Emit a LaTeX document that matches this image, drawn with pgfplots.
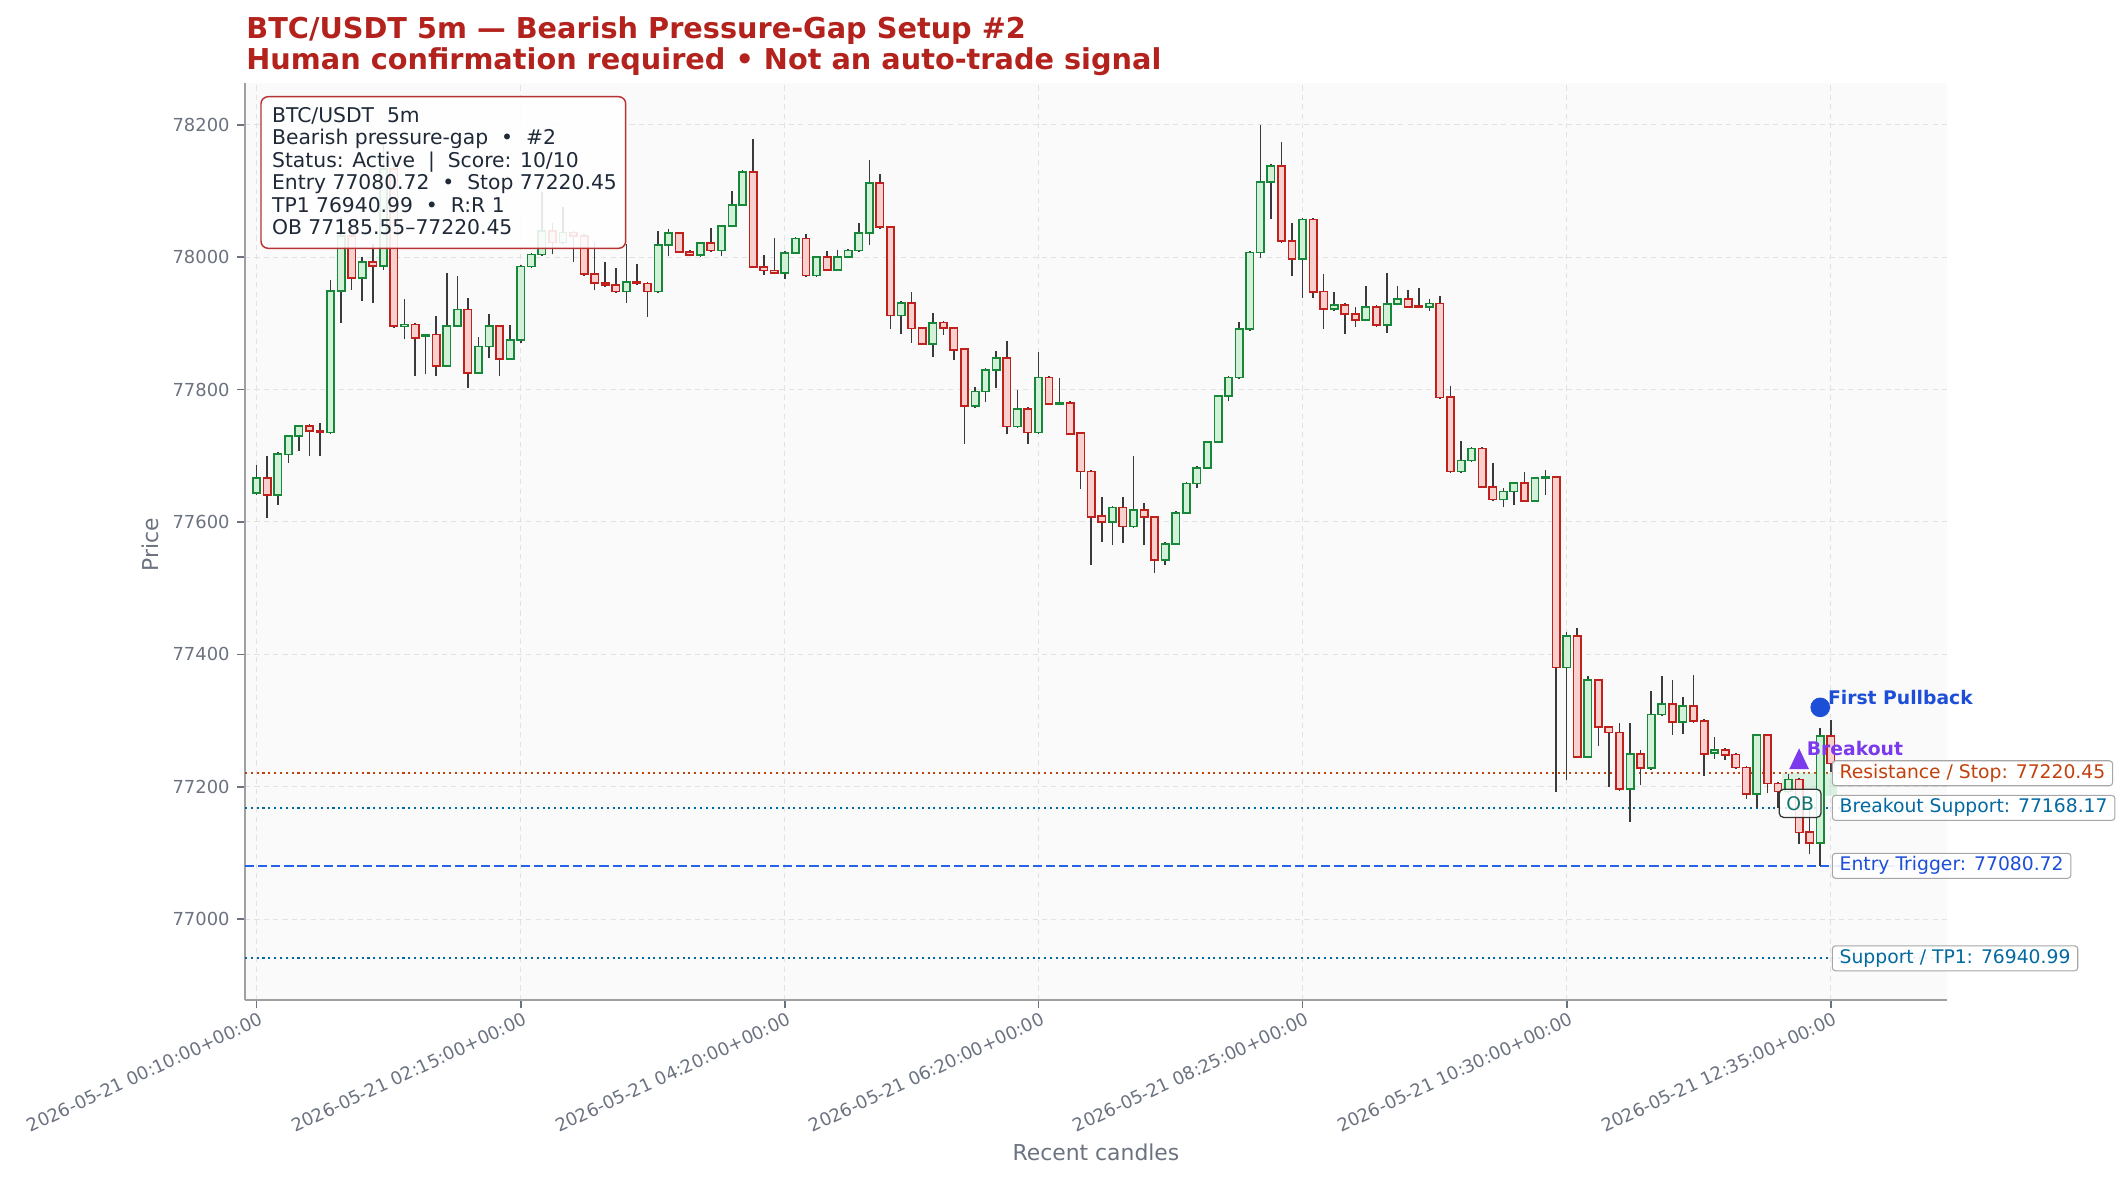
\documentclass[border=0pt]{standalone}
\usepackage{fontspec}
\setmainfont{DejaVu Sans}
\usepackage{pgfplots}
\usepackage{pgfplotstable}
\pgfplotsset{compat=1.18}

\definecolor{upedge}{HTML}{17873A}
\definecolor{upfill}{HTML}{D3F0D9}
\definecolor{dnedge}{HTML}{C0211D}
\definecolor{dnfill}{HTML}{F8D0CE}
\definecolor{wickc}{HTML}{3A3A3A}
\definecolor{titlec}{HTML}{B3221C}
\definecolor{tickc}{HTML}{6B7280}
\definecolor{spinec}{HTML}{A0A0A0}
\definecolor{gridc}{HTML}{E2E2E2}
\definecolor{bgc}{HTML}{FAFAFA}
\definecolor{resc}{HTML}{C2410C}
\definecolor{supc}{HTML}{0369A1}
\definecolor{entc}{HTML}{2563EB}
\definecolor{entt}{HTML}{1D4ED8}
\definecolor{brkc}{HTML}{7C3AED}
\definecolor{obc}{HTML}{0F766E}
\definecolor{obfill}{HTML}{9FE3B8}
\definecolor{boxc}{HTML}{B83232}
\definecolor{boxt}{HTML}{1F2937}

% pt per dollar: axis height / (ymax - ymin)
\pgfmathsetmacro\yu{440.16/1385}

\pgfdeclareplotmark{cbody}{%
  \pgfpathrectangle{\pgfpoint{-1.75pt}{-0.5pt*\bh}}{\pgfpoint{3.5pt}{1pt*\bh}}%
  \pgfusepathqfillstroke}
\pgfdeclareplotmark{cwick}{%
  \pgfpathmoveto{\pgfpoint{0pt}{-0.5pt*\wh}}%
  \pgfpathlineto{\pgfpoint{0pt}{0.5pt*\wh}}%
  \pgfusepathqstroke}

% 5m candles, index 0 = 00:10
\pgfplotstableread{
x o h l c
0 77644 77686 77640 77666
1 77666 77700 77606 77641
2 77641 77705 77626 77703
3 77702 77732 77689 77730
4 77730 77747 77707 77745
5 77745 77748 77700 77737
6 77737 77750 77699 77735
7 77735 77966 77733 77949
8 77949 78060 77901 78032
9 78032 78045 77950 77968
10 77968 78000 77933 77993
11 77993 78020 77930 77987
12 77987 78170 77980 78133
13 78133 78140 77893 77896
14 77895 77937 77876 77898
15 77898 77900 77821 77878
16 77880 77884 77824 77882
17 77883 77911 77821 77836
18 77836 77976 77834 77896
19 77896 77971 77894 77921
20 77921 77938 77802 77825
21 77825 77880 77823 77865
22 77865 77914 77847 77896
23 77896 77898 77821 77846
24 77846 77897 77844 77875
25 77875 77988 77870 77986
26 77986 78006 77984 78004
27 78004 78099 78002 78039
28 78039 78052 78004 78022
29 78022 78076 78020 78037
30 78037 78040 77992 78032
31 78032 78035 77972 77974
32 77974 78023 77950 77961
33 77961 77993 77955 77958
34 77958 77983 77946 77948
35 77948 78020 77931 77962
36 77962 77989 77958 77960
37 77960 77962 77910 77948
38 77948 78039 77946 78018
39 78018 78043 78001 78036
40 78036 78038 78006 78008
41 78008 78010 78001 78003
42 78003 78023 78000 78021
43 78021 78044 78008 78010
44 78010 78049 78001 78047
45 78047 78100 78045 78079
46 78079 78131 78077 78129
47 78129 78179 77983 77985
48 77985 78003 77973 77980
49 77980 78029 77974 77976
50 77976 78009 77967 78006
51 78006 78030 78004 78028
52 78028 78035 77970 77972
53 77972 78002 77970 78000
54 78000 78009 77979 77981
55 77981 78010 77979 78000
56 78000 78012 77998 78010
57 78010 78052 78008 78036
58 78036 78147 78019 78112
59 78112 78125 78043 78045
60 78045 78047 77892 77912
61 77912 77933 77884 77931
62 77931 77948 77871 77892
63 77893 77895 77867 77869
64 77869 77915 77849 77901
65 77901 77903 77883 77893
66 77893 77895 77844 77860
67 77861 77863 77718 77775
68 77775 77804 77772 77797
69 77797 77832 77781 77830
70 77830 77858 77802 77848
71 77848 77873 77733 77744
72 77744 77799 77742 77771
73 77771 77773 77718 77735
74 77735 77856 77733 77818
75 77818 77820 77776 77778
76 77778 77817 77776 77780
77 77780 77782 77731 77733
78 77734 77736 77650 77676
79 77676 77678 77535 77607
80 77609 77637 77569 77600
81 77600 77624 77565 77622
82 77622 77637 77568 77593
83 77593 77699 77591 77618
84 77618 77629 77565 77607
85 77607 77609 77523 77543
86 77543 77569 77535 77567
87 77567 77616 77565 77614
88 77614 77660 77612 77658
89 77658 77684 77652 77682
90 77682 77723 77680 77721
91 77721 77792 77719 77790
92 77790 77820 77782 77818
93 77818 77902 77816 77891
94 77891 78009 77889 78007
95 78007 78200 77999 78113
96 78113 78140 78057 78138
97 78138 78174 78022 78024
98 78024 78052 77971 77997
99 77997 78059 77938 78057
100 78057 78059 77939 77947
101 77948 77974 77892 77922
102 77922 77948 77918 77928
103 77928 77930 77884 77914
104 77914 77924 77894 77905
105 77905 77956 77903 77925
106 77925 77927 77895 77897
107 77897 77976 77886 77929
108 77929 77957 77927 77937
109 77937 77951 77923 77925
110 77926 77953 77923 77924
111 77925 77937 77919 77930
112 77930 77941 77786 77788
113 77789 77805 77674 77676
114 77676 77723 77674 77693
115 77693 77713 77691 77711
116 77711 77713 77651 77653
117 77653 77689 77632 77634
118 77634 77652 77623 77646
119 77646 77661 77625 77659
120 77659 77675 77630 77632
121 77632 77668 77630 77666
122 77666 77678 77640 77668
123 77668 77670 77192 77380
124 77380 77434 77210 77428
125 77428 77440 77243 77245
126 77245 77368 77243 77361
127 77361 77363 77261 77290
128 77290 77292 77200 77282
129 77282 77297 77193 77197
130 77197 77297 77147 77250
131 77250 77255 77203 77228
132 77228 77344 77226 77309
133 77309 77367 77307 77325
134 77325 77361 77278 77298
135 77298 77336 77280 77322
136 77322 77369 77297 77299
137 77299 77303 77216 77250
138 77251 77275 77242 77256
139 77256 77259 77240 77248
140 77249 77251 77227 77229
141 77229 77231 77182 77189
142 77189 77280 77168 77278
143 77278 77280 77190 77205
144 77205 77207 77168 77193
145 77193 77219 77191 77211
146 77211 77213 77113 77131
147 77132 77166 77099 77115
148 77115 77289 77081 77277
149 77277 77301 77222 77235
}\ohlc

\tikzset{
  lvl/.style={draw=gray!70, line width=0.5pt, fill=white, fill opacity=0.9, text opacity=1,
    rounded corners=1.5pt, inner xsep=3.5pt, inner ysep=1.4pt, text height=7pt, text depth=2.2pt,
    font=\fontsize{9}{10.8}\selectfont, anchor=west},
  boxline/.style={anchor=base west, text=boxt, inner sep=0pt, font=\fontsize{9.75}{11.7}\selectfont},
}

\begin{document}
\begin{tikzpicture}[x=0.48pt, y=0.48pt]
\useasboundingbox (-245,-179) rectangle (1880,1000);
\begin{axis}[
  at={(0,0)}, anchor=south west,
  scale only axis, width=816.96pt, height=440.16pt,
  xmin=-1.1, xmax=160, ymin=76878, ymax=78263,
  axis x line*=bottom, axis y line*=left,
  axis line style={draw=spinec, line width=0.8pt, -},
  axis background/.style={fill=bgc},
  xtick={0,25,50,74,99,124,149},
  xticklabels={2026-05-21 00:10:00+00:00,2026-05-21 02:15:00+00:00,2026-05-21 04:20:00+00:00,2026-05-21 06:20:00+00:00,2026-05-21 08:25:00+00:00,2026-05-21 10:30:00+00:00,2026-05-21 12:35:00+00:00},
  ytick={77000,77200,77400,77600,77800,78000,78200},
  scaled y ticks=false,
  /pgf/number format/assume math mode=true,
  yticklabel style={/pgf/number format/fixed, /pgf/number format/1000 sep={}},
  tick align=outside, major tick length=3.7pt,
  tick style={draw=tickc, line width=0.8pt},
  ticklabel style={font=\fontsize{8.6}{10.3}\selectfont, text=tickc},
  xticklabel style={rotate=25, anchor=north east, inner sep=0pt, yshift=-2pt},
  yticklabel style={anchor=east, inner sep=0pt, xshift=-3.5pt},
  grid=major,
  major grid style={draw=gridc, dash pattern=on 2.5pt off 2pt, line width=0.5pt},
  clip=false,
]
% key levels
\addplot[draw=resc, line width=1pt, dash pattern=on 1pt off 1.8pt] coordinates {(-1.1,77220.45) (160,77220.45)};
\addplot[draw=supc, line width=1pt, dash pattern=on 1pt off 1.8pt] coordinates {(-1.1,77168.17) (160,77168.17)};
\addplot[draw=supc, line width=1pt, dash pattern=on 1pt off 1.8pt] coordinates {(-1.1,76940.99) (160,76940.99)};
\addplot[draw=entc, line width=1.2pt, dash pattern=on 4.4pt off 1.9pt] coordinates {(-1.1,77080.72) (160,77080.72)};
% order block zone
\fill[obfill, fill opacity=0.35] (axis cs:144.4,77185.55) rectangle (axis cs:149.6,77220.45);

% wicks
\addplot[only marks, mark=cwick, mark options={draw=wickc, line width=0.75pt},
  visualization depends on={\yu*(\thisrow{h}-\thisrow{l}) \as \wh}]
  table[x=x, y expr={0.5*(\thisrow{h}+\thisrow{l})}] {\ohlc};
% up bodies
\addplot[only marks, mark=cbody, mark options={draw=upedge, fill=upfill, line width=0.8pt},
  visualization depends on={\yu*abs(\thisrow{c}-\thisrow{o}) \as \bh}]
  table[x=x, y expr={\thisrow{c}>=\thisrow{o} ? 0.5*(\thisrow{o}+\thisrow{c}) : nan}] {\ohlc};
% down bodies
\addplot[only marks, mark=cbody, mark options={draw=dnedge, fill=dnfill, line width=0.8pt},
  visualization depends on={\yu*abs(\thisrow{c}-\thisrow{o}) \as \bh}]
  table[x=x, y expr={\thisrow{c}<\thisrow{o} ? 0.5*(\thisrow{o}+\thisrow{c}) : nan}] {\ohlc};

% markers
\addplot[only marks, mark=triangle*, mark size=6.2pt, mark options={draw=brkc, fill=brkc, xscale=0.82}] coordinates {(146,77237)};
\addplot[only marks, mark=*, mark size=4.5pt, mark options={draw=entt, fill=entt}] coordinates {(148,77320)};

% anchor points for the annotations drawn on top
\coordinate (brk) at (axis cs:146.7,77258);
\coordinate (fpb) at (axis cs:148.7,77335);
\coordinate (ob) at (axis cs:146.1,77175);
\coordinate (lres) at (axis cs:149.1,77220.45);
\coordinate (lsup) at (axis cs:149.1,77168.17);
\coordinate (lent) at (axis cs:149.1,77080.72);
\coordinate (ltp) at (axis cs:149.1,76940.99);
\end{axis}

\node[anchor=west, inner sep=0pt, text=brkc, font=\fontsize{9}{10.8}\selectfont\bfseries] at (brk) {Breakout};
\node[anchor=west, inner sep=0pt, text=entt, font=\fontsize{9}{10.8}\selectfont\bfseries] at (fpb) {First Pullback};
\node[draw=black!80, line width=0.6pt, fill=white, fill opacity=0.85, text opacity=1, rounded corners=2pt,
  text=obc, font=\fontsize{9}{10.8}\selectfont, inner xsep=3pt, minimum height=13.4pt, minimum width=20pt]
  at (ob) {OB};

% right-hand level labels
\node[lvl, text=resc] at (lres) {Resistance / Stop: 77220.45};
\node[lvl, text=supc] at (lsup) {Breakout Support: 77168.17};
\node[lvl, text=entt] at (lent) {Entry Trigger: 77080.72};
\node[lvl, text=supc] at (ltp) {Support / TP1: 76940.99};

% axis labels
\node[rotate=90, text=tickc, font=\fontsize{10.5}{12.6}\selectfont] at (-95,455) {Price};
\node[text=tickc, font=\fontsize{10.5}{12.6}\selectfont] at (851,-152) {Recent candles};

% title
\node[anchor=base west, inner sep=0pt, text=titlec, font=\fontsize{13.8}{16.5}\selectfont\bfseries] at (1,961.7) {BTC/USDT 5m — Bearish Pressure-Gap Setup \#2};
\node[anchor=base west, inner sep=0pt, text=titlec, font=\fontsize{13.8}{16.5}\selectfont\bfseries] at (1,930) {Human confirmation required • Not an auto-trade signal};

% info box
\draw[draw=boxc, line width=0.7pt, fill=white, fill opacity=0.88, rounded corners=3.4pt] (16,751.7) rectangle (380.7,903.3);
\node[boxline] at (26.7,877.7) {BTC/USDT\ \ 5m};
\node[boxline] at (26.7,855.2) {Bearish pressure-gap\ \ •\ \ \#2};
\node[boxline] at (26.7,832.7) {Status: Active\ \ |\ \ Score: 10/10};
\node[boxline] at (26.7,810.2) {Entry 77080.72\ \ •\ \ Stop 77220.45};
\node[boxline] at (26.7,787.7) {TP1 76940.99\ \ •\ \ R:R 1};
\node[boxline] at (26.7,765.2) {OB 77185.55–77220.45};
\end{tikzpicture}
\end{document}
